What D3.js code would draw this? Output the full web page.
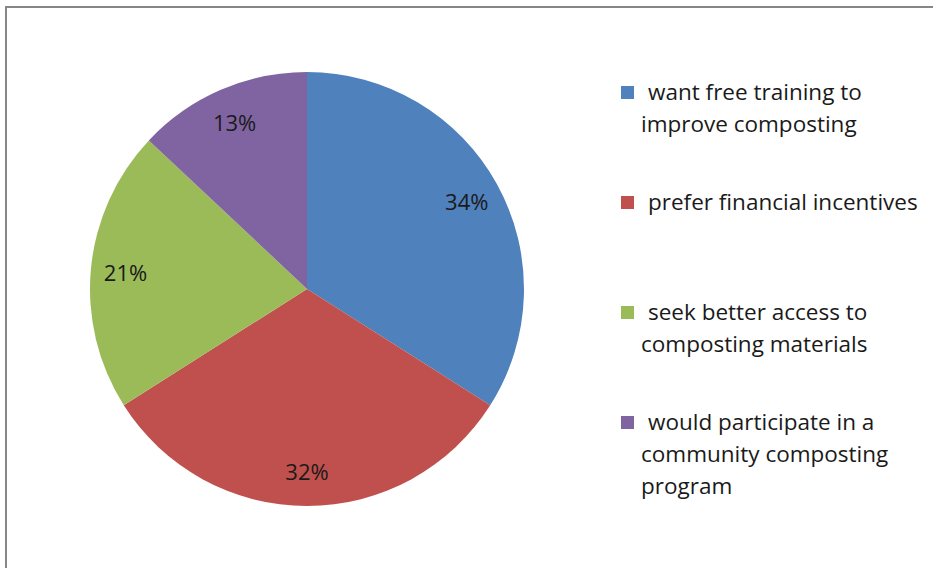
<!DOCTYPE html>
<html>
<head>
<meta charset="utf-8">
<script src="https://cdn.jsdelivr.net/npm/d3@7"></script>
<style>
  html, body { margin: 0; padding: 0; background: #fff; }
  svg { display: block; }
</style>
</head>
<body>
<svg id="chart" width="933" height="568"></svg>
<script>
// Survey responses (percent of respondents)
const categories = [
  "want free training to improve composting",
  "prefer financial incentives",
  "seek better access to composting materials",
  "would participate in a community composting program"
];
const legendLines = [
  ["want free training to", "improve composting"],
  ["prefer financial incentives"],
  ["seek better access to", "composting materials"],
  ["would participate in a", "community composting", "program"]
];
const values = [34, 32, 21, 13];
const colors = ["#4F81BD", "#C0504D", "#9BBB59", "#8064A2"];

const svg = d3.select("#chart");
const font = "'Open Sans', Lato, sans-serif";

// Chart area frame
svg.append("rect")
  .attr("x", 6).attr("y", 7)
  .attr("width", 940).attr("height", 580)
  .attr("fill", "#fff")
  .attr("stroke", "#868686")
  .attr("stroke-width", 2);

const cx = 307, cy = 289, R = 217;

const pie = d3.pie().sort(null).value(d => d)
  .startAngle(0).endAngle(2 * Math.PI);
const arcs = pie(values);
const arc = d3.arc().innerRadius(0).outerRadius(R);
const labelArc = d3.arc().innerRadius(R * 0.84).outerRadius(R * 0.84);

const g = svg.append("g").attr("transform", `translate(${cx},${cy})`);

g.selectAll("path.slice")
  .data(arcs)
  .join("path")
  .attr("class", "slice")
  .attr("d", arc)
  .attr("fill", (d, i) => colors[i]);

g.selectAll("text.pct")
  .data(arcs)
  .join("text")
  .attr("class", "pct")
  .attr("transform", d => `translate(${labelArc.centroid(d)})`)
  .attr("text-anchor", "middle")
  .attr("dominant-baseline", "central")
  .attr("font-family", font)
  .attr("font-size", 22)
  .attr("fill", "#1a1a1a")
  .text(d => d.data + "%");

// Legend
const legend = svg.append("g").attr("transform", "translate(621,0)");
const itemY = d3.scaleLinear().domain([0, 1]).range([92, 202]);

const items = legend.selectAll("g.item")
  .data(categories)
  .join("g")
  .attr("class", "item")
  .attr("transform", (d, i) => `translate(0,${itemY(i)})`);

items.append("rect")
  .attr("x", 0).attr("y", -6)
  .attr("width", 13).attr("height", 13)
  .attr("fill", (d, i) => colors[i]);

items.each(function (d, i) {
  const t = d3.select(this).append("text")
    .attr("font-family", font)
    .attr("font-size", 22.5)
    .attr("fill", "#1a1a1a");
  legendLines[i].forEach((line, j) => {
    t.append("tspan")
      .attr("x", j === 0 ? 27 : 20)
      .attr("y", 8 + j * 32)
      .text(line);
  });
});
</script>
</body>
</html>
